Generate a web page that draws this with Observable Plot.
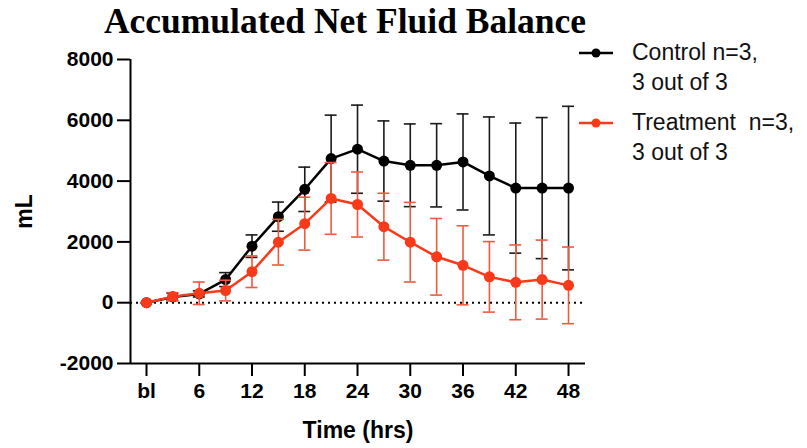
<!DOCTYPE html>
<html>
<head>
<meta charset="utf-8">
<script src="https://cdn.jsdelivr.net/npm/d3@7"></script>
<script src="https://cdn.jsdelivr.net/npm/@observablehq/plot@0.6"></script>
<style>
  html, body { margin: 0; padding: 0; background: #fff; }
  #wrap { position: relative; width: 807px; height: 448px; overflow: hidden; }
  #title { position: absolute; left: 0; width: 690px; text-align: center; top: 1px; font-family: "Liberation Serif", "Times New Roman", serif; font-weight: bold; font-size: 35.5px; line-height: 40px; color: #000; white-space: nowrap; }
  #spacer { height: 40px; }
  .leg { position: absolute; left: 579px; font-family: "Liberation Sans", Arial, sans-serif; font-size: 23px; line-height: 30px; color: #111; }
  .leg .txt { position: absolute; left: 53px; top: 0; white-space: nowrap; }
  .leg svg { position: absolute; left: 0; }
</style>
</head>
<body>
<div id="wrap">
  <div id="title">Accumulated Net Fluid Balance</div>
  <div id="spacer"></div>
  <div id="chart"></div>
  <div class="leg" style="top:37px;">
    <svg width="36" height="20" style="top:6px"><line x1="0" x2="34" y1="10" y2="10" stroke="#000" stroke-width="2.5"/><circle cx="17" cy="10" r="4.5" fill="#000"/></svg>
    <div class="txt">Control n=3,<br>3 out of 3</div>
  </div>
  <div class="leg" style="top:107px;">
    <svg width="36" height="20" style="top:6px"><line x1="0" x2="34" y1="10" y2="10" stroke="#f93a1a" stroke-width="2.5"/><circle cx="17" cy="10" r="4.5" fill="#f93a1a"/></svg>
    <div class="txt">Treatment&nbsp; n=3,<br>3 out of 3</div>
  </div>
</div>
<script>
const time = [0, 3, 6, 9, 12, 15, 18, 21, 24, 27, 30, 33, 36, 39, 42, 45, 48];
const control = [0, 190, 290, 760, 1860, 2830, 3730, 4740, 5050, 4660, 4520, 4520, 4630, 4170, 3770, 3770, 3770];
const controlSD = [0, 120, 100, 230, 370, 480, 730, 1430, 1450, 1320, 1360, 1370, 1580, 1940, 2140, 2320, 2690];
const treatment = [0, 200, 310, 400, 1020, 1990, 2600, 3430, 3230, 2500, 1990, 1510, 1230, 850, 670, 760, 570];
const treatmentSD = [0, 130, 370, 340, 520, 750, 870, 1180, 1070, 1100, 1310, 1260, 1300, 1160, 1230, 1300, 1260];
const xTicks = [0, 6, 12, 18, 24, 30, 36, 42, 48];
const yTicks = [-2000, 0, 2000, 4000, 6000, 8000];

const xDomain = [-1.82, 49.93];
const yDomain = [-2000, 8000];

const ctrl = time.map((t, i) => ({t, v: control[i], sd: controlSD[i]}));
const trt = time.map((t, i) => ({t, v: treatment[i], sd: treatmentSD[i]}));

const red = "#f93a1a";
const redErr = "#f0593f";
const cap = 0.68;

function errMarks(data, color, w) {
  return [
    Plot.ruleX(data, {x: "t", y1: d => d.v - d.sd, y2: d => d.v + d.sd, stroke: color, strokeWidth: w}),
    Plot.ruleY(data, {y: d => d.v + d.sd, x1: d => d.t - cap, x2: d => d.t + cap, stroke: color, strokeWidth: w}),
    Plot.ruleY(data, {y: d => d.v - d.sd, x1: d => d.t - cap, x2: d => d.t + cap, stroke: color, strokeWidth: w})
  ];
}

const plot = Plot.plot({
  width: 807,
  height: 408,
  marginLeft: 130,
  marginRight: 222,
  marginTop: 19,
  marginBottom: 85,
  style: {fontFamily: "'Liberation Sans', Arial, sans-serif", color: "#000", background: "transparent", overflow: "visible"},
  x: {domain: xDomain},
  y: {domain: yDomain},
  marks: [
    Plot.axisX({ticks: xTicks, tickFormat: d => d === 0 ? "bl" : String(d), tickSize: 13, tickPadding: 7, strokeWidth: 2, fontSize: 21, fontWeight: "bold", label: "Time (hrs)", labelArrow: "none", labelAnchor: "center", labelOffset: 74}),
    Plot.axisY({ticks: yTicks, tickFormat: d => String(d), tickSize: 13, tickPadding: 4, strokeWidth: 2, fontSize: 21, fontWeight: "bold", label: "mL", labelArrow: "none", labelAnchor: "center", labelOffset: 115}),
    Plot.ruleY([0], {stroke: "#000", strokeWidth: 2, strokeDasharray: "2,4"}),
    Plot.ruleY([yDomain[0]], {stroke: "#000", strokeWidth: 2}),
    Plot.ruleX([xDomain[0]], {stroke: "#000", strokeWidth: 2}),
    ...errMarks(ctrl, "#1a1a1a", 1.6),
    Plot.line(ctrl, {x: "t", y: "v", stroke: "#000", strokeWidth: 2.5}),
    Plot.dot(ctrl, {x: "t", y: "v", r: 5.5, fill: "#000"}),
    ...errMarks(trt, redErr, 1.6),
    Plot.line(trt, {x: "t", y: "v", stroke: red, strokeWidth: 2.5}),
    Plot.dot(trt, {x: "t", y: "v", r: 5.5, fill: red})
  ]
});
document.getElementById("chart").appendChild(plot);
// axis label styling; remove any arrows
plot.querySelectorAll("g[aria-label='x-axis label'] text, g[aria-label='y-axis label'] text").forEach(t => {
  t.textContent = t.textContent.replace(/\s*[↑→←↓]\s*/g, "").trim();
  t.setAttribute("font-size", "23");
  t.setAttribute("font-weight", "bold");
  t.style.fontSize = "23px";
  t.style.fontWeight = "bold";
});
</script>
</body>
</html>
